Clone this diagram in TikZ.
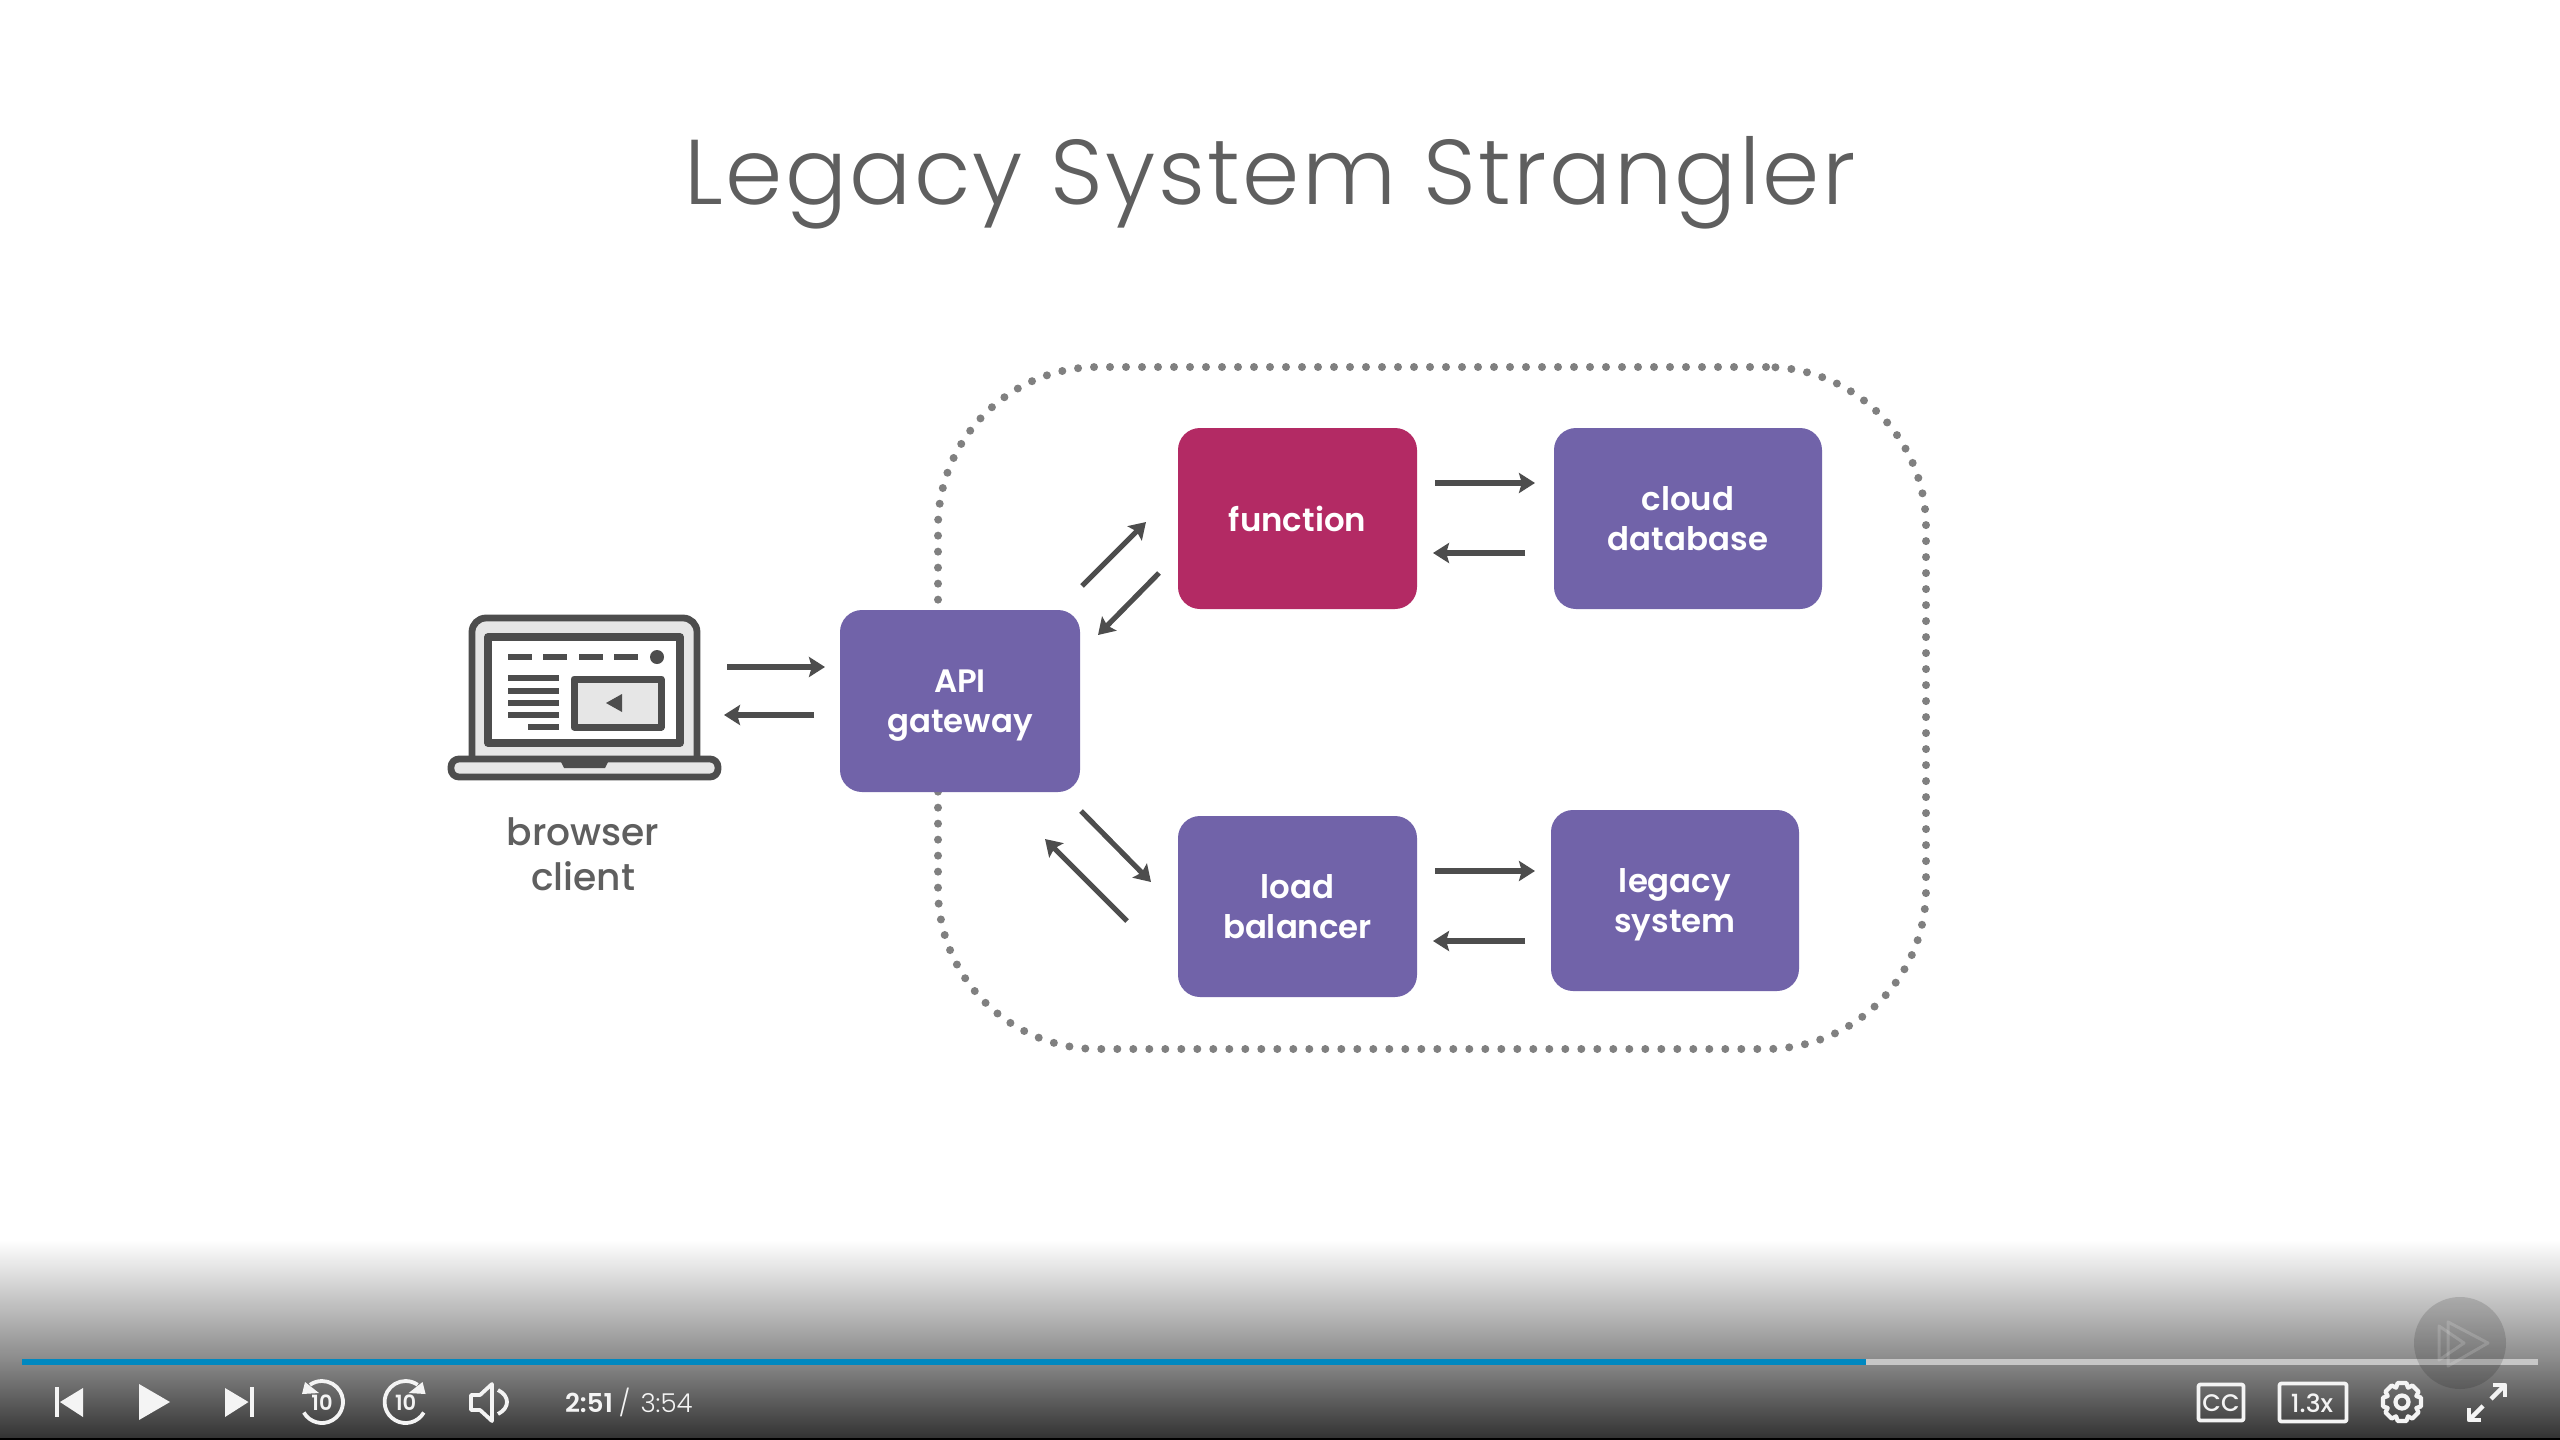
\documentclass[tikz,border=0pt]{standalone}
\usepackage{fontspec}
\usetikzlibrary{arrows.meta}
\setmainfont{Poppins}[UprightFont=* Medium,BoldFont=* SemiBold]
\newfontfamily\lightfont{Poppins}[UprightFont=* Light]
\newfontfamily\titlefont{Poppins}[UprightFont=* Light,LetterSpace=2.6]
\newfontfamily\boxfont{Poppins}[UprightFont=* SemiBold]
\definecolor{purplebox}{HTML}{7163A9}
\definecolor{magentabox}{HTML}{B32A64}
\definecolor{ink}{HTML}{4D4D4D}
\definecolor{screenfill}{HTML}{E6E6E6}
\definecolor{ctl}{HTML}{F4F4F4}
\definecolor{progress}{HTML}{0088C0}
\tikzset{
  box/.style={draw=none,rounded corners=11pt,inner sep=0pt,outer sep=0pt,text=white,align=center,
    text depth=0pt,font=\boxfont\fontsize{16.2}{20}\selectfont},
  purple box/.style={box,fill=purplebox},
  flow/.style={draw=ink,line width=2.6pt,-{Stealth[length=8pt,width=10pt,inset=1.4pt]}},
  ic/.style={draw=ink,line width=3.4pt,line join=round},
  bar/.style={draw=ink,line width=3.4pt},
  ctrl/.style={draw=ctl,line width=1.9pt,line join=round},
  ctrlfill/.style={fill=ctl,draw=none},
  ctrltext/.style={text=ctl,inner sep=0pt,outer sep=0pt},
}
\begin{document}
\begin{tikzpicture}[x=0.5pt,y=-0.5pt]
\useasboundingbox (0,0) rectangle (2560,1440);
\fill[white] (0,0) rectangle (2560,1440);

% title
\node[anchor=base,inner sep=0pt,text=ink!90,font=\titlefont\fontsize{46}{50}\selectfont] (title) at (1270,204) {Legacy System Strangler};

% dotted group
\node[draw=black!50,line width=4pt,line cap=round,dash pattern=on 0pt off 8pt,rounded corners=80pt,
  minimum width=494pt,minimum height=341pt,inner sep=0pt] (group) at (1432,708) {};

% boxes
\node[purple box,minimum width=120pt,minimum height=91pt] (api) at (960,701) {API\\gateway};
\node[box,fill=magentabox,minimum width=119.5pt,minimum height=90.5pt] (fn) at (1297.5,518.5) {function};
\node[purple box,minimum width=134pt,minimum height=90.5pt] (db) at (1688,518.5) {cloud\\database};
\node[purple box,minimum width=119.5pt,minimum height=90.5pt] (lb) at (1297.5,906.5) {load\\balancer};
\node[purple box,minimum width=124pt,minimum height=90.5pt] (legacy) at (1675,900.5) {legacy\\system};

% laptop
\draw[ic,fill=screenfill] (472,758) -- (472,632) arc[start angle=180,end angle=270,radius=14] -- (683,618) arc[start angle=270,end angle=360,radius=14] -- (697,758);
\draw[ic,fill=white,line width=3.8pt] (488,637) rectangle (680,743);
\foreach \a/\b in {508/532,543/567,579/603,614/638} \draw[bar] (\a,657) -- (\b,657);
\fill[ink] (657,657) circle[radius=7];
\foreach \yy in {678,691,703,715} \draw[bar,line width=3.2pt] (508,\yy) -- (559,\yy);
\draw[bar,line width=3.2pt] (528,727) -- (559,727);
\draw[ic,fill=screenfill,line width=3.5pt] (574,679) rectangle (661,727);
\fill[ink] (606,703) -- (622,694) -- (622,712) -- cycle;
\draw[ic,fill=screenfill,rounded corners=4pt] (451,759) rectangle (718,777);
\fill[ink] (558,756) -- (564,768) -- (605,768) -- (611,756) -- cycle;
\node[anchor=base,inner sep=0pt,text=ink!90,font=\fontsize{18.8}{23}\selectfont] (browser) at (583,845) {browser};
\node[anchor=base,inner sep=0pt,text=ink!90,font=\fontsize{18.8}{23}\selectfont] (clienttxt) at (583,890) {client};

% connector ends
\coordinate (a1) at (727,667); \coordinate (a2) at (825,667);
\coordinate (b1) at (814,715); \coordinate (b2) at (724,715);
\coordinate (c1) at (1082,586); \coordinate (c2) at (1146,522);
\coordinate (d1) at (1159,573); \coordinate (d2) at (1098,635);
\coordinate (e1) at (1435,483); \coordinate (e2) at (1535,483);
\coordinate (f1) at (1525,553); \coordinate (f2) at (1433,553);
\coordinate (g1) at (1081,811); \coordinate (g2) at (1151,882);
\coordinate (h1) at (1127,921); \coordinate (h2) at (1045,839);
\coordinate (i1) at (1435,871); \coordinate (i2) at (1535,871);
\coordinate (j1) at (1525,941); \coordinate (j2) at (1433,941);
\foreach \s/\t in {a1/a2,b1/b2,c1/c2,d1/d2,e1/e2,f1/f2,g1/g2,h1/h2,i1/i2,j1/j2}
  \draw[flow] (\s) -- (\t);

% player bar
\shade[top color=white,bottom color=black!46] (0,1240) rectangle (2560,1360);
\shade[top color=black!46,bottom color=black!80] (0,1360) rectangle (2560,1438);
\fill[black] (0,1438) rectangle (2560,1440);
\fill[black!22] (1866,1359) rectangle (2538,1365);
\fill[black,opacity=.14] (2460,1343) circle[radius=46];
\draw[white,opacity=.16,line width=1.5pt,line join=round] (2448,1322) -- (2488,1343) -- (2448,1366) -- cycle;
\draw[white,opacity=.16,line width=1.5pt,line join=round] (2439,1326) -- (2439,1360) -- (2464,1343) -- cycle;
\fill[progress] (22,1359) rectangle (1866,1365);

% transport
\fill[ctl] (55,1387) rectangle (59,1417);
\path[ctrlfill] (60,1402) -- (83,1388) -- (83,1417) -- cycle;
\path[ctrlfill] (139,1384) -- (170,1402) -- (139,1420) -- cycle;
\path[ctrlfill] (248.5,1402) -- (225,1388) -- (225,1417) -- cycle;
\fill[ctl] (249.5,1387) rectangle (253.5,1417);

% replay 10
\draw[ctrl] (322,1402) ++(150:21) arc[start angle=150,end angle=-125,radius=21];
\path[ctrlfill] (305,1382) -- (302,1394) -- (319,1393) -- cycle;
\node[ctrltext,font=\bfseries\fontsize{10.5}{11}\selectfont] (rew) at (322,1403) {10};
% forward 10
\draw[ctrl] (405.6,1402) ++(30:21) arc[start angle=30,end angle=305,radius=21];
\path[ctrlfill] (422.6,1382) -- (425.6,1394) -- (408.6,1393) -- cycle;
\node[ctrltext,font=\bfseries\fontsize{10.5}{11}\selectfont] (fwd) at (405.6,1403) {10};

% speaker
\draw[ctrl] (492,1384) -- (480,1395) -- (471,1395) -- (471,1410) -- (480,1410) -- (492,1421) -- cycle;
\draw[ctrl] (498,1390) .. controls (510,1396) and (510,1408) .. (498,1414);

% time
\node[ctrltext,anchor=base west,font=\fontsize{13}{15}\selectfont] (time) at (565,1412) {{\bfseries 2:51}\hspace{3pt}{\lightfont /\hspace{1.5pt} 3:54}};

% CC
\draw[ctrl,rounded corners=1pt] (2198.5,1384.5) rectangle (2243.5,1420.5);
\node[ctrltext,font=\fontsize{12}{14}\selectfont] (cc) at (2221,1403) {CC};
% speed
\draw[ctrl,rounded corners=1pt] (2279.5,1383.5) rectangle (2346.5,1421.5);
\node[ctrltext,font=\fontsize{12.5}{14}\selectfont] (speed) at (2312,1403) {1.3x};

% gear
\begin{scope}[shift={(2402,1402)}]
\draw[ctrl,line width=2.1pt] (-22.5:15.5)
  \foreach \g in {0,45,...,315} { -- ({\g-13}:19.5) -- ({\g+13}:19.5) -- ({\g+22.5}:15.5) } -- cycle;
\draw[ctrl,line width=2.1pt] (0,0) circle[radius=6.5];
\end{scope}

% expand
\draw[ctrl,line width=2.2pt] (2491,1399) -- (2505,1385);
\draw[ctrl,line width=2.2pt] (2493,1385) -- (2505,1385) -- (2505,1397);
\draw[ctrl,line width=2.2pt] (2483,1406) -- (2469,1420);
\draw[ctrl,line width=2.2pt] (2481,1420) -- (2469,1420) -- (2469,1408);
\end{tikzpicture}
\end{document}
